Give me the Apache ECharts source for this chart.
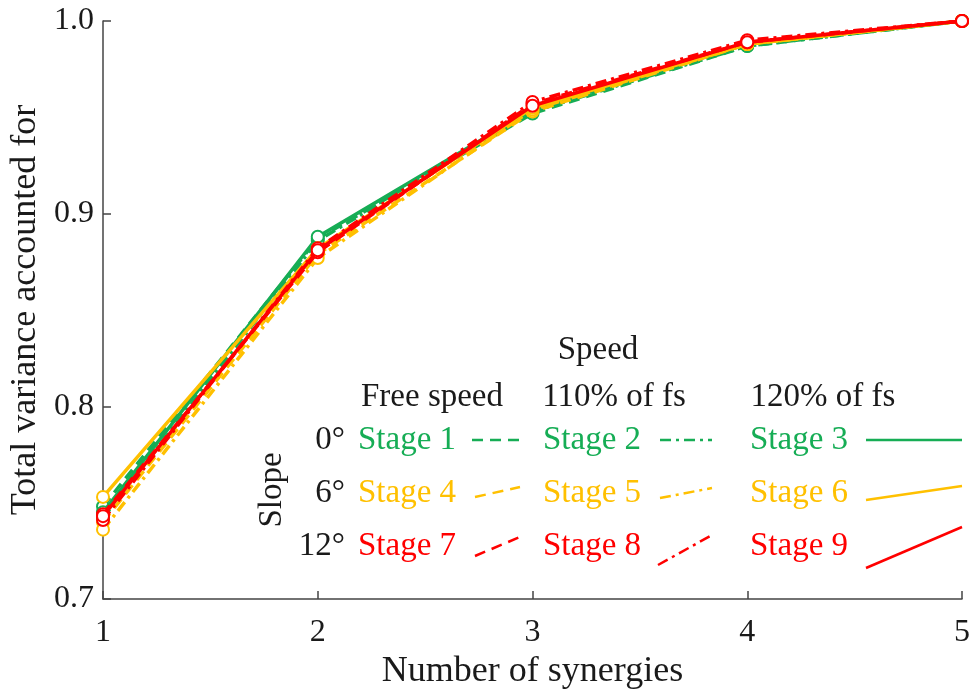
<!DOCTYPE html>
<html>
<head>
<meta charset="utf-8">
<script src="https://cdn.jsdelivr.net/npm/echarts@6/dist/echarts.min.js"></script>
<style>
  html, body { margin: 0; padding: 0; background: #fff; }
  #chart { width: 970px; height: 690px; }
</style>
</head>
<body>
<div id="chart"></div>
<script>
// Number of synergies on the x axis
var synergies = [1, 2, 3, 4, 5];

// Total variance accounted for, per stage (slope x speed)
var stage1 = [0.748, 0.887, 0.952, 0.987, 1.0];
var stage2 = [0.742, 0.886, 0.953, 0.987, 1.0];
var stage3 = [0.745, 0.888, 0.954, 0.988, 1.0];
var stage4 = [0.740, 0.879, 0.953, 0.988, 1.0];
var stage5 = [0.736, 0.877, 0.954, 0.988, 1.0];
var stage6 = [0.753, 0.882, 0.955, 0.988, 1.0];
var stage7 = [0.744, 0.880, 0.957, 0.989, 1.0];
var stage8 = [0.741, 0.882, 0.958, 0.990, 1.0];
var stage9 = [0.743, 0.881, 0.956, 0.989, 1.0];

var yTicks = [0.7, 0.8, 0.9, 1.0];

var GREEN = '#16ad55';
var YELLOW = '#ffc000';
var RED = '#ff0000';
var FONT = '"Liberation Serif", "DejaVu Serif", serif';
var TXT = '#1a1a1a';

var DASH = [11, 7];
var DASHDOT = [11, 5, 3, 5];

var stages = [
  { name: 'Stage 1', data: stage1, color: GREEN, dash: DASH },
  { name: 'Stage 2', data: stage2, color: GREEN, dash: DASHDOT },
  { name: 'Stage 3', data: stage3, color: GREEN, dash: 'solid' },
  { name: 'Stage 4', data: stage4, color: YELLOW, dash: DASH },
  { name: 'Stage 5', data: stage5, color: YELLOW, dash: DASHDOT },
  { name: 'Stage 6', data: stage6, color: YELLOW, dash: 'solid' },
  { name: 'Stage 7', data: stage7, color: RED, dash: DASH },
  { name: 'Stage 8', data: stage8, color: RED, dash: DASHDOT },
  { name: 'Stage 9', data: stage9, color: RED, dash: 'solid' }
];

var series = stages.map(function (s, i) {
  return {
    name: s.name,
    type: 'line',
    z: 2 + i,
    data: synergies.map(function (x, k) { return [x, s.data[k]]; }),
    symbol: 'emptyCircle',
    symbolSize: 12,
    showSymbol: true,
    lineStyle: { color: s.color, width: 3.5, type: s.dash },
    itemStyle: { color: s.color, borderColor: s.color, borderWidth: 2.2 },
    emphasis: { disabled: true },
    animation: false
  };
});

// Legend table drawn as graphic elements
var label = function (txt, x, y, color, align) {
  return {
    type: 'text', x: x, y: y,
    style: {
      text: txt, fill: color || TXT, font: '33px ' + FONT,
      align: align || 'left', verticalAlign: 'middle'
    }
  };
};
var seg = function (x1, y1, x2, y2, color, dash) {
  return {
    type: 'line',
    shape: { x1: x1, y1: y1, x2: x2, y2: y2 },
    style: { stroke: color, lineWidth: 2.5, lineDash: dash === 'solid' ? null : dash }
  };
};

var colX = [358, 543, 750];
var rowY = [440, 493, 546];
var rowColors = [GREEN, YELLOW, RED];
var rowLabels = ['0°', '6°', '12°'];
var lineSegs = [
  [[472, 440, 520, 440], [660, 440, 712, 440], [866, 440, 962, 440]],
  [[475, 497, 520, 487], [660, 498, 712, 488], [866, 500, 962, 486]],
  [[475, 556, 520, 537], [658, 565, 712, 535], [866, 568, 962, 527]]
];
var legendElems = [
  label('Speed', 598, 350, TXT, 'center'),
  label('Free speed', 432, 397, TXT, 'center'),
  label('110% of fs', 614, 397, TXT, 'center'),
  label('120% of fs', 823, 397, TXT, 'center'),
  {
    type: 'text', x: 272, y: 490, rotation: Math.PI / 2,
    style: { text: 'Slope', fill: TXT, font: '33px ' + FONT, align: 'center', verticalAlign: 'middle' }
  }
];
for (var r = 0; r < 3; r++) {
  legendElems.push(label(rowLabels[r], 345, rowY[r], TXT, 'right'));
  for (var c = 0; c < 3; c++) {
    var st = stages[r * 3 + c];
    legendElems.push(label(st.name, colX[c], rowY[r], rowColors[r], 'left'));
    var L = lineSegs[r][c];
    legendElems.push(seg(L[0], L[1], L[2], L[3], st.color, st.dash));
  }
}

var chart = echarts.init(document.getElementById('chart'), null, { renderer: 'canvas' });
chart.setOption({
  backgroundColor: '#fff',
  animation: false,
  grid: {
    left: 103, right: 8, top: 21, bottom: 91,
    containLabel: false, outerBoundsMode: 'none'
  },
  xAxis: {
    type: 'value', min: 1, max: 5, interval: 1,
    name: 'Number of synergies', nameLocation: 'middle', nameGap: 54,
    nameTextStyle: { fontFamily: FONT, fontSize: 36, color: TXT },
    axisLine: { show: true, lineStyle: { color: '#444', width: 1.5 } },
    axisTick: { show: true, inside: true, length: 8, lineStyle: { color: '#444', width: 1.5 } },
    axisLabel: { fontFamily: FONT, fontSize: 32, color: TXT, margin: 18 },
    splitLine: { show: false }
  },
  yAxis: {
    type: 'value', min: 0.7, max: 1.0, interval: 0.1,
    name: 'Total variance accounted for', nameLocation: 'middle', nameGap: 58,
    nameTextStyle: { fontFamily: FONT, fontSize: 36, color: TXT },
    axisLine: { show: true, lineStyle: { color: '#444', width: 1.5 } },
    axisTick: { show: true, inside: true, length: 8, lineStyle: { color: '#444', width: 1.5 } },
    axisLabel: {
      fontFamily: FONT, fontSize: 32, color: TXT, margin: 9,
      formatter: function (v) {
        var hit = yTicks.filter(function (t) { return Math.abs(t - v) < 1e-6; });
        return hit.length ? hit[0].toFixed(1) : '';
      }
    },
    splitLine: { show: false }
  },
  series: series,
  graphic: legendElems
});
</script>
</body>
</html>
